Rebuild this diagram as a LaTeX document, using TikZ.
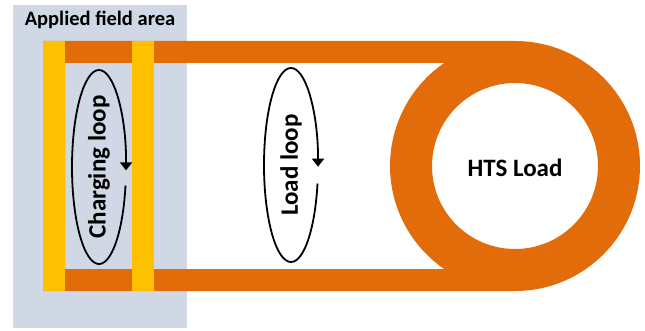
\documentclass[tikz,border=0pt]{standalone}
\usepackage{fontspec}
\setmainfont{Carlito}
\usetikzlibrary{arrows.meta}
\definecolor{fieldgrey}{RGB}{207,216,228}
\definecolor{tapeorange}{RGB}{227,108,10}
\definecolor{baryellow}{RGB}{255,192,0}
\tikzset{
  looparrow/.style={line width=1.8pt, -{Triangle[width=12pt,length=8pt]}},
  looplabel/.style={font=\fontsize{25}{28}\selectfont\bfseries, rotate=90, inner sep=0pt},
}
\begin{document}
\begin{tikzpicture}[x=1pt,y=1pt]
\useasboundingbox (0,0) rectangle (645,330);
% applied field area
\fill[fieldgrey] (13,2) rectangle (187,325);
\node[font=\fontsize{20.5}{24}\selectfont\bfseries, inner sep=0pt] (title) at (100,310) {Applied field area};
% orange tape with HTS load ring
\fill[tapeorange, even odd rule]
  (43,39) -- (515,39) arc (-90:90:125) -- (43,289) -- cycle
  (65,61) -- (444.2,61) arc (235.5:124.5:125) -- (65,267) -- cycle
  (515,164) circle (83);
% yellow bars
\fill[baryellow] (43,39) rectangle (65,289);
\fill[baryellow] (132,39) rectangle (154,289);
% labels
\node[font=\fontsize{25}{28}\selectfont\bfseries, inner sep=0pt] (hts) at (515,162) {HTS Load};
\node[looplabel] (charging) at (99,163) {Charging loop};
\node[looplabel] (load) at (291,165) {Load loop};
% loop arrows
\draw[looparrow] (charging.center) ++(-11:27 and 97) arc[start angle=-11, end angle=-362, x radius=27, y radius=97];
\draw[looparrow] (load.center) ++(-11:27 and 97) arc[start angle=-11, end angle=-361, x radius=27, y radius=97];
\end{tikzpicture}
\end{document}
